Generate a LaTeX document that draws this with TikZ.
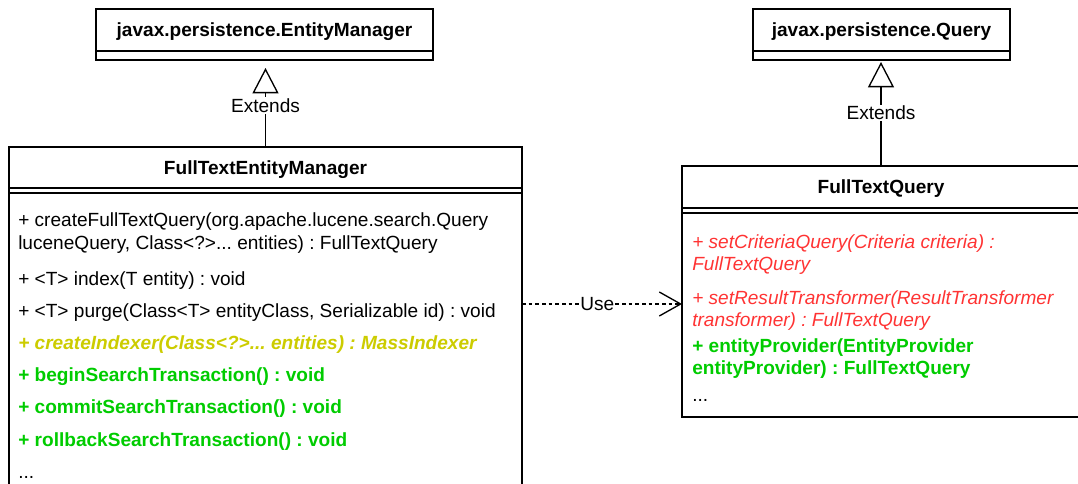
\documentclass[tikz,border=0pt]{standalone}
\usepackage{fontspec}
\setmainfont{Liberation Sans}
\usetikzlibrary{positioning}
\usetikzlibrary{arrows.meta}
\definecolor{opred}{RGB}{255,51,51}
\definecolor{opyellow}{RGB}{204,204,0}
\definecolor{opgreen}{RGB}{0,204,0}
\newcommand{\umlfont}{\fontsize{14.3}{17.2}\selectfont\frenchspacing}
\tikzset{
    classhead/.style = {rectangle, draw=black, line width=1pt, outer sep=0pt, inner sep=0pt, text depth=0pt, font=\umlfont\bfseries},
    classpart/.style = {rectangle, draw=black, line width=1pt, outer sep=0pt, inner sep=0pt},
    op/.style = {anchor=base west, inner sep=0pt, font=\umlfont},
    opr/.style = {op, text=opred, font=\umlfont\itshape}, % new in query
    opy/.style = {op, text=opyellow, font=\umlfont\bfseries\itshape}, % changed
    opg/.style = {op, text=opgreen, font=\umlfont\bfseries}, % new
    extends/.style = {line width=1pt, -{Triangle[open, length=19pt, width=19.5pt]}},
    uses/.style = {line width=1pt, dash pattern=on 2.75pt off 2.25pt, -{Straight Barb[length=16pt, width=18pt]}},
    edgelabel/.style = {fill=white, inner sep=1pt, font=\umlfont}
}

\begin{document}
\begin{tikzpicture}[x=0.75pt, y=-0.75pt]
\useasboundingbox (0,0) rectangle (1078,484);

% parent classes
\node[classhead, minimum width=252.75pt, minimum height=31.5pt] (em) at (264.5,30) {javax.persistence.EntityManager};
\node[classpart, minimum width=252.75pt, minimum height=6.75pt, below=0pt of em] (emattr) {};
\node[classhead, minimum width=192.75pt, minimum height=31.5pt] (q) at (881.5,30) {javax.persistence.Query};
\node[classpart, minimum width=192.75pt, minimum height=6.75pt, below=0pt of q] (qattr) {};

% FullTextEntityManager
\node[classhead, minimum width=384.75pt, minimum height=30.75pt] (ftem) at (265.5,167.5) {FullTextEntityManager};
\node[classpart, minimum width=384.75pt, minimum height=3.75pt, below=0pt of ftem] (ftemattr) {};
\node[classpart, minimum width=384.75pt, minimum height=222.75pt, below=0pt of ftemattr] (ftemops) {};

\node[op] (m1a) at (18,227) {+ createFullTextQuery(org.apache.lucene.search.Query};
\node[op] (m1b) at (18,250) {luceneQuery, Class<?>... entities) : FullTextQuery};
\node[op] (m2) at (18,286) {+ <T> index(T entity) : void};
\node[op] (m3) at (18,318) {+ <T> purge(Class<T> entityClass, Serializable id) : void};
\node[opy] (m4) at (18,350) {+ createIndexer(Class<?>... entities) : MassIndexer};
\node[opg] (m5) at (18,382) {+ beginSearchTransaction() : void};
\node[opg] (m6) at (18,414) {+ commitSearchTransaction() : void};
\node[opg] (m7) at (18,446) {+ rollbackSearchTransaction() : void};
\node[op] (m8) at (18,478) {...};

% FullTextQuery
\node[classhead, minimum width=298.5pt, minimum height=31.5pt] (ftq) at (881,187) {FullTextQuery};
\node[classpart, minimum width=298.5pt, minimum height=3.75pt, below=0pt of ftq] (ftqattr) {};
\node[classpart, minimum width=298.5pt, minimum height=153pt, below=0pt of ftqattr] (ftqops) {};

\node[opr] (q1a) at (692,249) {+ setCriteriaQuery(Criteria criteria) :};
\node[opr] (q1b) at (692,271) {FullTextQuery};
\node[opr] (q2a) at (692,305) {+ setResultTransformer(ResultTransformer};
\node[opr] (q2b) at (692,327) {transformer) : FullTextQuery};
\node[opg] (q3a) at (692,353) {+ entityProvider(EntityProvider};
\node[opg] (q3b) at (692,375) {entityProvider) : FullTextQuery};
\node[op] (q4) at (692,402) {...};

% relations
\draw[extends, shorten >=6pt] (ftem.north) -- (ftem.north |- emattr.south)
  node[edgelabel, pos=0.48] {Extends};
\draw[extends, shorten >=1.5pt] (ftq.north) -- (ftq.north |- qattr.south)
  node[edgelabel, pos=0.5] {Extends};
\coordinate (usey) at (0,304);
\draw[uses] (ftemops.east |- usey) -- (ftqops.west |- usey)
  node[edgelabel, pos=0.47] {Use};

\end{tikzpicture}
\end{document}
